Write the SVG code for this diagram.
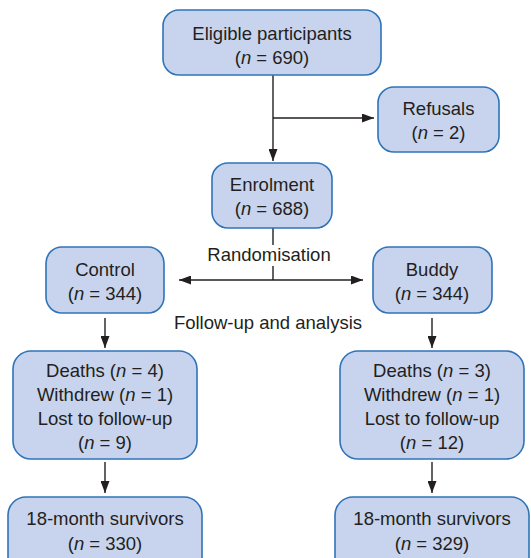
<svg xmlns="http://www.w3.org/2000/svg" width="531" height="558" viewBox="0 0 531 558">
<style>
.box{fill:#c8d4ed;stroke:#2f74b8;stroke-width:1.6}
text{font-family:"Liberation Sans",Arial,sans-serif;font-size:18.5px;fill:#231f20;text-anchor:middle}
.i{font-style:italic}
.c{stroke:#231f20;stroke-width:1.4;fill:none}
</style>
<defs>
<marker id="ah" viewBox="0 0 12 9" refX="12" refY="4.5" markerWidth="12" markerHeight="9" markerUnits="userSpaceOnUse" orient="auto-start-reverse">
<path d="M0,0 L12,4.5 L0,9 Z" fill="#231f20"/>
</marker>
</defs>
<rect width="531" height="558" fill="#fff"/>
<g id="connectors">
<path class="c" d="M273,75 V161" marker-end="url(#ah)"/>
<path class="c" d="M273,118 H374" marker-end="url(#ah)"/>
<path class="c" d="M273,228 V245"/>
<path class="c" d="M273,266 V280"/>
<path class="c" d="M179,280 H363" marker-start="url(#ah)" marker-end="url(#ah)"/>
<path class="c" d="M105,318 V348" marker-end="url(#ah)"/>
<path class="c" d="M432,318 V348" marker-end="url(#ah)"/>
<path class="c" d="M105,462 V493" marker-end="url(#ah)"/>
<path class="c" d="M432,462 V493" marker-end="url(#ah)"/>
</g>
<g id="eligible">
<rect class="box" x="163" y="10" width="218" height="65" rx="16"/>
<text x="272" y="40">Eligible participants</text>
<text x="272" y="64">(<tspan class="i">n</tspan> = 690)</text>
</g>
<g id="refusals">
<rect class="box" x="378" y="87" width="121" height="65" rx="16"/>
<text x="438.5" y="115">Refusals</text>
<text x="438.5" y="139">(<tspan class="i">n</tspan> = 2)</text>
</g>
<g id="enrolment">
<rect class="box" x="212" y="163" width="120" height="65" rx="16"/>
<text x="272" y="191">Enrolment</text>
<text x="272" y="215">(<tspan class="i">n</tspan> = 688)</text>
</g>
<g id="randomisation">
<text x="269" y="261">Randomisation</text>
</g>
<g id="control">
<rect class="box" x="46" y="247" width="118" height="66" rx="16"/>
<text x="105" y="276">Control</text>
<text x="105" y="300">(<tspan class="i">n</tspan> = 344)</text>
</g>
<g id="buddy">
<rect class="box" x="373" y="247" width="119" height="66" rx="16"/>
<text x="432" y="276">Buddy</text>
<text x="432" y="300">(<tspan class="i">n</tspan> = 344)</text>
</g>
<g id="followup">
<text x="268" y="329">Follow-up and analysis</text>
</g>
<g id="control-loss">
<rect class="box" x="13" y="351" width="184" height="108" rx="18"/>
<text x="105" y="377">Deaths (<tspan class="i">n</tspan> = 4)</text>
<text x="105" y="401">Withdrew (<tspan class="i">n</tspan> = 1)</text>
<text x="105" y="425">Lost to follow-up</text>
<text x="105" y="449">(<tspan class="i">n</tspan> = 9)</text>
</g>
<g id="buddy-loss">
<rect class="box" x="340" y="351" width="184" height="108" rx="18"/>
<text x="432" y="377">Deaths (<tspan class="i">n</tspan> = 3)</text>
<text x="432" y="401">Withdrew (<tspan class="i">n</tspan> = 1)</text>
<text x="432" y="425">Lost to follow-up</text>
<text x="432" y="449">(<tspan class="i">n</tspan> = 12)</text>
</g>
<g id="control-survivors">
<rect class="box" x="8" y="497" width="194" height="80" rx="18"/>
<text x="105" y="525">18-month survivors</text>
<text x="105" y="550">(<tspan class="i">n</tspan> = 330)</text>
</g>
<g id="buddy-survivors">
<rect class="box" x="335" y="497" width="194" height="80" rx="18"/>
<text x="432" y="525">18-month survivors</text>
<text x="432" y="550">(<tspan class="i">n</tspan> = 329)</text>
</g>
</svg>
